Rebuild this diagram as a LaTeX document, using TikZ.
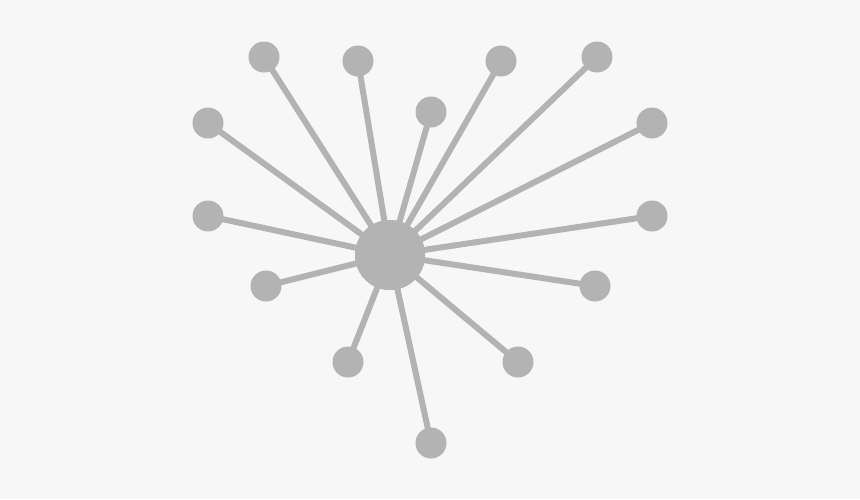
\documentclass[tikz,border=0pt]{standalone}
\definecolor{bg}{HTML}{F7F7F7}
\definecolor{gr}{HTML}{B3B3B3}
\tikzset{
  leaf/.style={circle,fill=gr,draw=none,minimum size=31pt,inner sep=0pt},
  hub/.style={circle,fill=gr,draw=none,minimum size=70pt,inner sep=0pt},
  spoke/.style={draw=gr,line width=6pt}
}
\begin{document}
\begin{tikzpicture}[x=1pt,y=-1pt]
\fill[bg] (0,0) rectangle (860,499);
\useasboundingbox (0,0) rectangle (860,499);
\node[hub] (c) at (390,255) {};
\foreach \n/\x/\y in {a/264/57, b/358/61, d/501/61, e/597/57, f/431/112, g/208/123, h/652/123, i/208/216, j/652/216, k/266/286, l/595/286, m/348/362, n/518/362, o/431/443}{
  \node[leaf] (\n) at (\x,\y) {};
  \draw[spoke] (c.center) -- (\n.center);
}
\node[hub] at (c.center) {};
\end{tikzpicture}
\end{document}
